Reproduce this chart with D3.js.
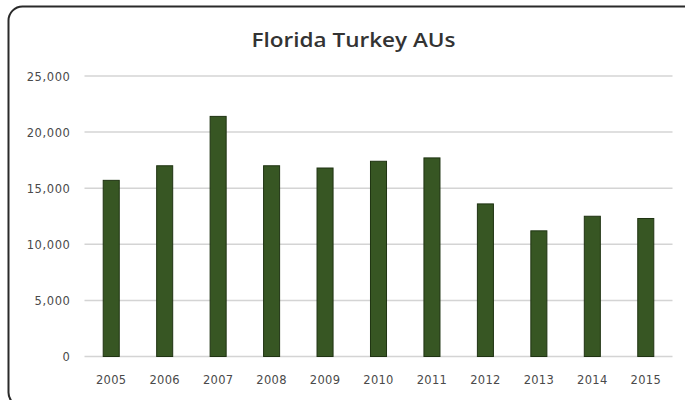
<!DOCTYPE html>
<html>
<head>
<meta charset="utf-8">
<script src="https://cdn.jsdelivr.net/npm/d3@7"></script>
<style>
  html, body { margin: 0; padding: 0; background: #fff; }
  svg { display: block; }
</style>
</head>
<body>
<svg id="chart" width="685" height="400"></svg>
<script>
const years = ["2005","2006","2007","2008","2009","2010","2011","2012","2013","2014","2015"];
const values = [15700, 17000, 21400, 17000, 16800, 17400, 17700, 13600, 11200, 12500, 12300];
const yTicks = [0, 5000, 10000, 15000, 20000, 25000];
const title = "Florida Turkey AUs";

const svg = d3.select("#chart");
const plot = { left: 84.5, right: 672.5, top: 76, bottom: 356.5 };

// Outer rounded border
svg.append("rect")
  .attr("x", 8.5).attr("y", 6.5)
  .attr("width", 690).attr("height", 400)
  .attr("rx", 14).attr("ry", 14)
  .attr("fill", "#fff")
  .attr("stroke", "#2a2a2a").attr("stroke-width", 2);

const x = d3.scaleBand().domain(years).range([plot.left, plot.right]).paddingInner(0.7).paddingOuter(0.35);
const y = d3.scaleLinear().domain([0, 25000]).range([plot.bottom, plot.top]);

// gridlines
svg.append("g").selectAll("line").data(yTicks).join("line")
  .attr("x1", plot.left).attr("x2", plot.right)
  .attr("y1", d => y(d)).attr("y2", d => y(d))
  .attr("stroke", "#d4d4d4").attr("stroke-width", 1.5);

// y axis labels
const yAxis = d3.axisLeft(y).tickValues(yTicks).tickSize(0).tickPadding(0)
  .tickFormat(d3.format(","));
const gy = svg.append("g").attr("transform", `translate(${plot.left - 14},0)`).call(yAxis);
gy.select(".domain").remove();
gy.selectAll("text").attr("font-family", "'DejaVu Sans', sans-serif")
  .attr("font-size", 11.5).attr("letter-spacing", 0.6).attr("fill", "#4a4a4a").attr("dy", "0.35em");

// x axis labels
const xAxis = d3.axisBottom(x).tickSize(0).tickPadding(0);
const gx = svg.append("g").attr("transform", `translate(0,${plot.bottom + 23})`).call(xAxis);
gx.select(".domain").remove();
gx.selectAll("text").attr("font-family", "'DejaVu Sans', sans-serif")
  .attr("font-size", 11.5).attr("letter-spacing", 0.3).attr("fill", "#4a4a4a").attr("dy", "0.35em");

// bars
svg.append("g").selectAll("rect").data(values).join("rect")
  .attr("x", (d, i) => x(years[i]))
  .attr("width", x.bandwidth())
  .attr("y", d => y(d))
  .attr("height", d => y(0) - y(d))
  .attr("fill", "#375623")
  .attr("stroke", "#1f3312").attr("stroke-width", 1);

// title
svg.append("text")
  .attr("x", 353.5).attr("y", 47)
  .attr("text-anchor", "middle")
  .attr("font-family", "'Open Sans', sans-serif")
  .attr("font-weight", 600)
  .attr("font-size", 20)
  .attr("textLength", 204)
  .attr("lengthAdjust", "spacingAndGlyphs")
  .attr("fill", "#333")
  .text(title);
</script>
</body>
</html>
